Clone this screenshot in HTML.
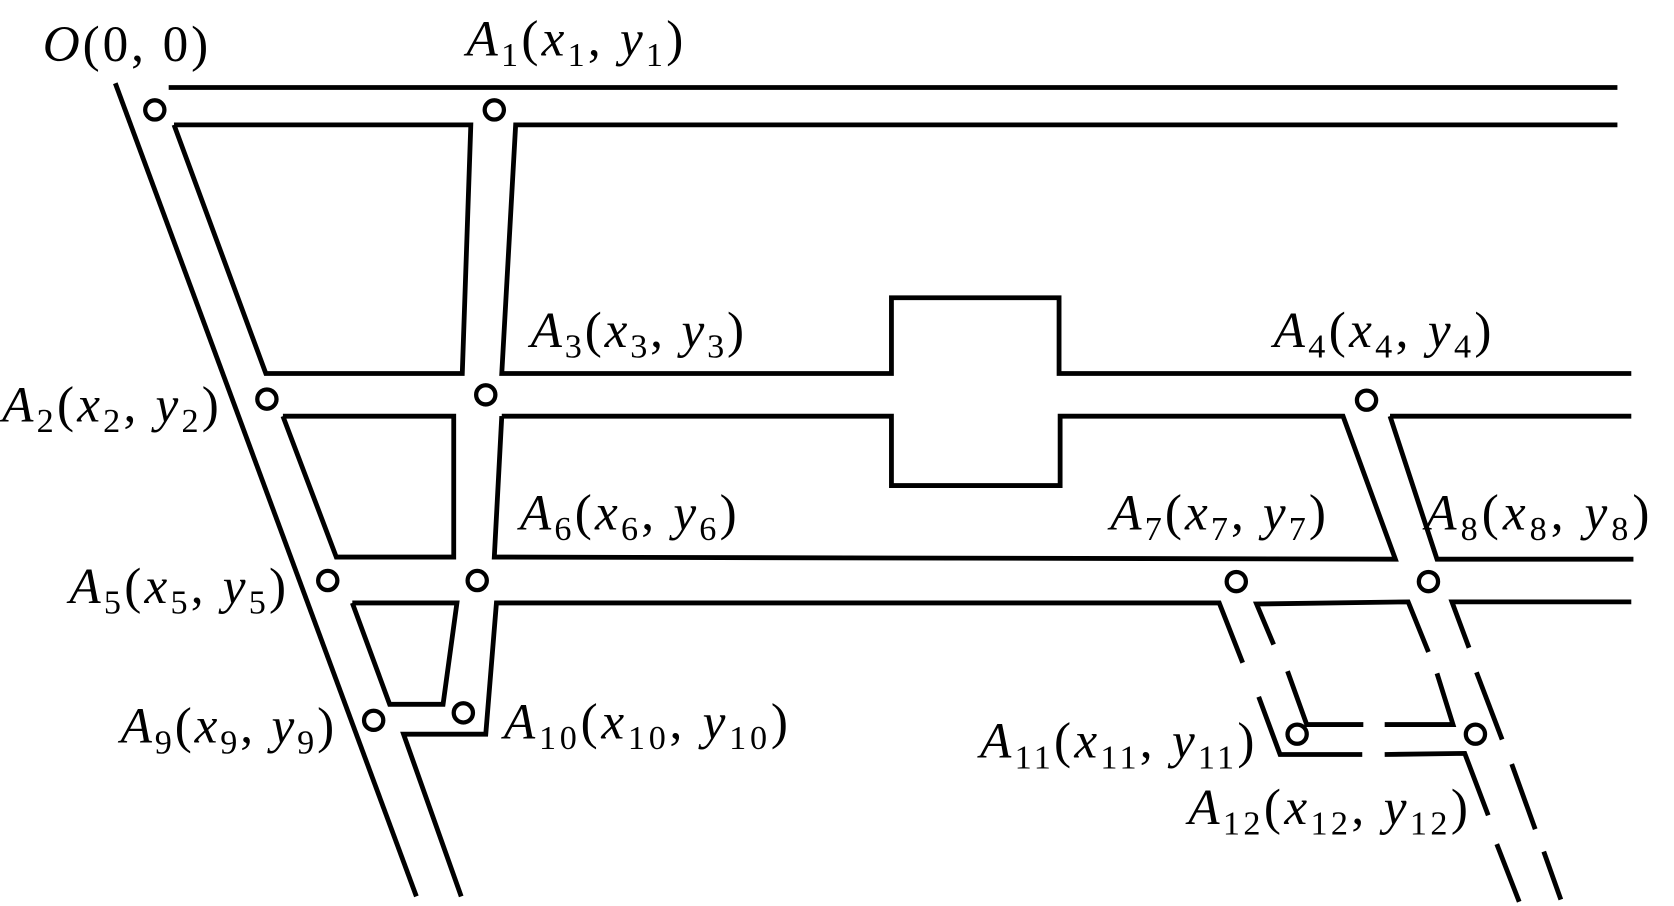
<!DOCTYPE html>
<html><head><meta charset="utf-8"><style>
html,body{margin:0;padding:0;background:#fff;}
svg{display:block;}
text{font-family:"Liberation Serif",serif;font-size:48px;fill:#000;}
.i{font-style:italic;}
.s{font-size:32px;}
</style></head><body>
<svg width="1674" height="906" viewBox="0 0 1568 849" preserveAspectRatio="none" xmlns="http://www.w3.org/2000/svg">
<g fill="none" stroke="#000" stroke-width="4.5" stroke-linejoin="miter">
<line x1="158" y1="82" x2="1515" y2="82"/>
<polyline points="1515,117 483,117 470,350 835,350 835,279 992,279 992,350 1528,350"/>
<polyline points="163,117 441,117 433,350 249,350 163,117"/>
<line x1="108" y1="78" x2="390" y2="840"/>
<polyline points="265,390 425,390 425,522 315,522 265,390"/>
<polyline points="470,390 835,390 835,455 993,455 993,390 1258,390 1307,524 463,522 470,390"/>
<polyline points="1302,390 1528,390"/>
<polyline points="1302,390 1346,524 1530,524"/>
<polyline points="330,565 428,565 415,660 365,660 330,565"/>
<polyline points="432,840 378,688 455,688 465,565 1142,565 1164,621"/>
<polyline points="1179,653 1199,707 1276,707"/>
<polyline points="1297,707 1372,706 1394,764"/>
<line x1="1402" y1="791" x2="1423" y2="845"/>
<polyline points="1193,604 1177,566 1319,564 1338,611"/>
<polyline points="1206,629 1224,679 1277,679"/>
<polyline points="1297,679 1361,679 1346,631"/>
<polyline points="1376,607 1360,564 1528,564"/>
<line x1="1383" y1="630" x2="1407" y2="693"/>
<line x1="1416" y1="716" x2="1438" y2="777"/>
<line x1="1446" y1="798" x2="1462" y2="843"/>
</g>
<g fill="#fff" stroke="#000" stroke-width="4">
<circle cx="145" cy="103" r="9"/><circle cx="463" cy="103" r="9"/>
<circle cx="250" cy="374" r="9"/><circle cx="455" cy="370" r="9"/>
<circle cx="1280" cy="375" r="9"/><circle cx="307" cy="544" r="9"/>
<circle cx="447" cy="544" r="9"/><circle cx="1158" cy="545" r="9"/>
<circle cx="1338" cy="545" r="9"/><circle cx="350" cy="675" r="9"/>
<circle cx="434" cy="668" r="9"/><circle cx="1215" cy="688" r="9"/>
<circle cx="1382" cy="688" r="9"/>
</g>
<text x="40" y="57" textLength="155" lengthAdjust="spacing"><tspan class="i">O</tspan>(0, 0)</text>
<text x="437" y="52" textLength="203" lengthAdjust="spacing"><tspan class="i">A</tspan><tspan class="s" dy="10">1</tspan><tspan dy="-10">(</tspan><tspan class="i">x</tspan><tspan class="s" dy="10">1</tspan><tspan dy="-10">, </tspan><tspan class="i">y</tspan><tspan class="s" dy="10">1</tspan><tspan dy="-10">)</tspan></text>
<text x="497" y="325" textLength="200" lengthAdjust="spacing"><tspan class="i">A</tspan><tspan class="s" dy="10">3</tspan><tspan dy="-10">(</tspan><tspan class="i">x</tspan><tspan class="s" dy="10">3</tspan><tspan dy="-10">, </tspan><tspan class="i">y</tspan><tspan class="s" dy="10">3</tspan><tspan dy="-10">)</tspan></text>
<text x="1193" y="325" textLength="204" lengthAdjust="spacing"><tspan class="i">A</tspan><tspan class="s" dy="10">4</tspan><tspan dy="-10">(</tspan><tspan class="i">x</tspan><tspan class="s" dy="10">4</tspan><tspan dy="-10">, </tspan><tspan class="i">y</tspan><tspan class="s" dy="10">4</tspan><tspan dy="-10">)</tspan></text>
<text x="2" y="395" textLength="203" lengthAdjust="spacing"><tspan class="i">A</tspan><tspan class="s" dy="10">2</tspan><tspan dy="-10">(</tspan><tspan class="i">x</tspan><tspan class="s" dy="10">2</tspan><tspan dy="-10">, </tspan><tspan class="i">y</tspan><tspan class="s" dy="10">2</tspan><tspan dy="-10">)</tspan></text>
<text x="487" y="496" textLength="203" lengthAdjust="spacing"><tspan class="i">A</tspan><tspan class="s" dy="10">6</tspan><tspan dy="-10">(</tspan><tspan class="i">x</tspan><tspan class="s" dy="10">6</tspan><tspan dy="-10">, </tspan><tspan class="i">y</tspan><tspan class="s" dy="10">6</tspan><tspan dy="-10">)</tspan></text>
<text x="1040" y="496" textLength="202" lengthAdjust="spacing"><tspan class="i">A</tspan><tspan class="s" dy="10">7</tspan><tspan dy="-10">(</tspan><tspan class="i">x</tspan><tspan class="s" dy="10">7</tspan><tspan dy="-10">, </tspan><tspan class="i">y</tspan><tspan class="s" dy="10">7</tspan><tspan dy="-10">)</tspan></text>
<text x="1335" y="496" textLength="210" lengthAdjust="spacing"><tspan class="i">A</tspan><tspan class="s" dy="10">8</tspan><tspan dy="-10">(</tspan><tspan class="i">x</tspan><tspan class="s" dy="10">8</tspan><tspan dy="-10">, </tspan><tspan class="i">y</tspan><tspan class="s" dy="10">8</tspan><tspan dy="-10">)</tspan></text>
<text x="65" y="565" textLength="203" lengthAdjust="spacing"><tspan class="i">A</tspan><tspan class="s" dy="10">5</tspan><tspan dy="-10">(</tspan><tspan class="i">x</tspan><tspan class="s" dy="10">5</tspan><tspan dy="-10">, </tspan><tspan class="i">y</tspan><tspan class="s" dy="10">5</tspan><tspan dy="-10">)</tspan></text>
<text x="113" y="696" textLength="200" lengthAdjust="spacing"><tspan class="i">A</tspan><tspan class="s" dy="10">9</tspan><tspan dy="-10">(</tspan><tspan class="i">x</tspan><tspan class="s" dy="10">9</tspan><tspan dy="-10">, </tspan><tspan class="i">y</tspan><tspan class="s" dy="10">9</tspan><tspan dy="-10">)</tspan></text>
<text x="472" y="692" textLength="266" lengthAdjust="spacing"><tspan class="i">A</tspan><tspan class="s" dy="10">10</tspan><tspan dy="-10">(</tspan><tspan class="i">x</tspan><tspan class="s" dy="10">10</tspan><tspan dy="-10">, </tspan><tspan class="i">y</tspan><tspan class="s" dy="10">10</tspan><tspan dy="-10">)</tspan></text>
<text x="918" y="710" textLength="257" lengthAdjust="spacing"><tspan class="i">A</tspan><tspan class="s" dy="10">11</tspan><tspan dy="-10">(</tspan><tspan class="i">x</tspan><tspan class="s" dy="10">11</tspan><tspan dy="-10">, </tspan><tspan class="i">y</tspan><tspan class="s" dy="10">11</tspan><tspan dy="-10">)</tspan></text>
<text x="1113" y="772" textLength="262" lengthAdjust="spacing"><tspan class="i">A</tspan><tspan class="s" dy="10">12</tspan><tspan dy="-10">(</tspan><tspan class="i">x</tspan><tspan class="s" dy="10">12</tspan><tspan dy="-10">, </tspan><tspan class="i">y</tspan><tspan class="s" dy="10">12</tspan><tspan dy="-10">)</tspan></text>
</svg>
</body></html>
